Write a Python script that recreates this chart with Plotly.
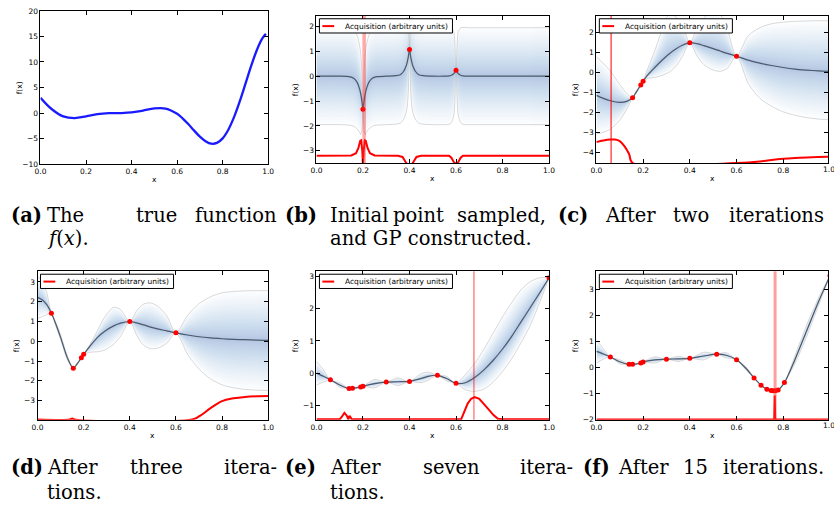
import plotly.graph_objects as go

W, H = 834, 518

# ---------------- data ----------------
# (a) true function
xa = [0.0, 0.05, 0.1, 0.15, 0.2, 0.25, 0.3, 0.35, 0.4, 0.45, 0.5, 0.55, 0.6, 0.625, 0.65, 0.675, 0.7,
      0.725, 0.75, 0.775, 0.8, 0.825, 0.85, 0.875, 0.9, 0.925, 0.95, 0.975, 0.99]
fa = [3.0, 0.75, -0.65, -0.97, -0.64, -0.21, -0.02, 0.0, 0.12, 0.48, 0.9, 0.87, -0.15, -1.07, -2.2, -3.44, -4.6,
      -5.5, -6.0, -5.84, -4.95, -3.26, -0.8, 2.27, 5.7, 9.18, 12.3, 14.65, 15.5]

# (b) initial GP
xb = [0, 0.1, 0.14, 0.16, 0.175, 0.185, 0.19, 0.195, 0.2, 0.205, 0.21, 0.215, 0.225, 0.24, 0.26, 0.3, 0.34,
      0.36, 0.375, 0.385, 0.39, 0.395, 0.4, 0.405, 0.41, 0.415, 0.425, 0.44, 0.46, 0.5, 0.55, 0.57, 0.58,
      0.59, 0.595, 0.6, 0.605, 0.61, 0.62, 0.63, 0.65, 0.7, 0.8, 0.9, 1.0]
mean_b = [0, 0, -0.02, -0.08, -0.25, -0.5, -0.7, -0.98, -1.33, -0.98, -0.7, -0.5, -0.25, -0.08, -0.02, 0, 0.02,
          0.06, 0.2, 0.4, 0.56, 0.79, 1.07, 0.79, 0.56, 0.4, 0.2, 0.06, 0.02, 0, 0, 0.01, 0.04,
          0.1, 0.16, 0.24, 0.16, 0.1, 0.04, 0.01, 0, 0, 0, 0, 0]
upper_b = [1.95, 1.95, 1.93, 1.85, 1.63, 1.25, 0.95, 0.22, -1.33, 0.22, 0.95, 1.25, 1.63, 1.85, 1.93, 1.95, 1.97,
           2.01, 2.13, 2.28, 2.36, 2.19, 1.07, 2.19, 2.36, 2.28, 2.13, 2.01, 1.97, 1.95, 1.95, 1.96, 1.94,
           1.8, 1.36, 0.24, 1.36, 1.8, 1.94, 1.96, 1.95, 1.95, 1.95, 1.95, 1.95]
lower_b = [-1.95, -1.95, -1.97, -2.01, -2.13, -2.25, -2.35, -2.18, -1.33, -2.18, -2.35, -2.25, -2.13, -2.01, -1.97, -1.95, -1.93,
           -1.89, -1.73, -1.48, -1.24, -0.61, 1.07, -0.61, -1.24, -1.48, -1.73, -1.89, -1.93, -1.95, -1.95, -1.94, -1.86,
           -1.6, -1.04, 0.24, -1.04, -1.6, -1.86, -1.94, -1.95, -1.95, -1.95, -1.95, -1.95]
acqx_b = [0, 0.15, 0.17, 0.18, 0.188, 0.192, 0.197, 0.2, 0.203, 0.208, 0.212, 0.22, 0.23, 0.25, 0.35, 0.37,
          0.38, 0.39, 0.41, 0.42, 0.43, 0.45, 0.57, 0.58, 0.59, 0.6, 0.61, 0.62, 0.63, 1.0]
acq_b = [-3.2, -3.19, -3.1, -2.9, -2.6, -2.58, -3.0, -3.6, -3.0, -2.58, -2.6, -2.9, -3.1, -3.19, -3.2, -3.25,
         -3.4, -3.55, -3.55, -3.4, -3.25, -3.2, -3.2, -3.28, -3.45, -3.52, -3.45, -3.28, -3.2, -3.2]
sx_b = [0.2, 0.4, 0.6]
sy_b = [-1.33, 1.07, 0.24]
next_b = 0.205

# (c) after two iterations
xc = [0, 0.03, 0.06, 0.1, 0.13, 0.155, 0.17, 0.19, 0.2, 0.22, 0.25, 0.28, 0.31, 0.34, 0.37, 0.4, 0.43,
      0.46, 0.5, 0.53, 0.56, 0.6, 0.65, 0.7, 0.75, 0.8, 0.85, 0.9, 0.95, 1.0]
mean_c = [-1.15, -1.3, -1.42, -1.5, -1.45, -1.27, -1.0, -0.63, -0.44, -0.12, 0.25, 0.6, 0.92, 1.18, 1.38, 1.5, 1.45,
          1.35, 1.2, 1.08, 0.96, 0.82, 0.62, 0.47, 0.35, 0.25, 0.17, 0.12, 0.08, 0.05]
upper_c = [0.8, 0.45, 0.07, -0.6, -1.05, -1.27, -0.95, -0.6, -0.4, 0.2, 1.1, 2.1, 2.9, 2.8, 2.3, 1.5, 2.2,
           2.75, 3.0, 2.9, 2.2, 0.82, 1.85, 2.25, 2.45, 2.53, 2.57, 2.59, 2.6, 2.6]
lower_c = [-3.1, -3.0, -2.85, -2.4, -1.85, -1.27, -1.05, -0.66, -0.47, -0.3, -0.25, -0.15, 0.0, 0.3, 0.85, 1.5, 0.85,
           0.4, 0.12, 0.06, 0.2, 0.82, -0.55, -1.3, -1.7, -1.98, -2.15, -2.27, -2.34, -2.38]
acqx_c = [0, 0.03, 0.06, 0.08, 0.1, 0.12, 0.14, 0.155, 0.6, 0.65, 0.7, 0.75, 0.8, 0.85, 0.9, 0.95, 1.0]
acq_c = [-3.5, -3.42, -3.37, -3.37, -3.45, -3.7, -4.1, -4.55, -4.55, -4.53, -4.48, -4.4, -4.34, -4.3, -4.27, -4.25, -4.23]
sx_c = [0.155, 0.19, 0.2, 0.4, 0.6]
sy_c = [-1.27, -0.63, -0.44, 1.5, 0.82]
next_c = 0.063

# (d) after three iterations
xd = [0, 0.02, 0.04, 0.06, 0.08, 0.1, 0.13, 0.155, 0.17, 0.19, 0.2, 0.23, 0.26, 0.29, 0.33, 0.36, 0.4,
      0.43, 0.46, 0.49, 0.52, 0.56, 0.6, 0.65, 0.7, 0.75, 0.8, 0.85, 0.9, 0.95, 1.0]
mean_d = [2.22, 2.1, 1.85, 1.42, 0.85, 0.2, -0.85, -1.36, -1.17, -0.83, -0.66, -0.2, 0.2, 0.5, 0.78, 0.92, 1.0,
          0.93, 0.83, 0.72, 0.63, 0.53, 0.43, 0.32, 0.23, 0.17, 0.13, 0.1, 0.08, 0.06, 0.05]
upper_d = [3.3, 3.0, 2.45, 1.42, 0.95, 0.32, -0.75, -1.36, -1.12, -0.83, -0.66, -0.1, 0.55, 1.2, 1.72, 1.6, 1.0,
           1.55, 1.88, 1.94, 1.78, 1.3, 0.43, 1.3, 1.9, 2.25, 2.45, 2.52, 2.55, 2.56, 2.56]
lower_d = [1.15, 1.25, 1.35, 1.42, 0.75, 0.08, -0.95, -1.36, -1.22, -0.85, -0.66, -0.55, -0.53, -0.45, -0.15, 0.25, 1.0,
           0.3, -0.2, -0.37, -0.35, -0.1, 0.43, -0.65, -1.4, -1.9, -2.2, -2.35, -2.43, -2.47, -2.48]
acqx_d = [0, 0.14, 0.15, 0.16, 0.67, 0.7, 0.75, 0.8, 0.85, 0.9, 0.95, 1.0]
acq_d = [-3.95, -3.95, -3.9, -3.95, -3.95, -3.8, -3.38, -3.02, -2.88, -2.81, -2.78, -2.77]
sx_d = [0.06, 0.155, 0.19, 0.2, 0.4, 0.6]
sy_d = [1.42, -1.36, -0.83, -0.66, 1.0, 0.43]
next_d = None

# (e) after seven iterations
xe = [0, 0.03, 0.06, 0.1, 0.14, 0.155, 0.17, 0.19, 0.2, 0.25, 0.3, 0.35, 0.4, 0.45, 0.48, 0.52, 0.56,
      0.6, 0.64, 0.68, 0.72, 0.76, 0.8, 0.84, 0.88, 0.92, 0.96, 1.0]
mean_e = [0.0, -0.1, -0.21, -0.37, -0.48, -0.47, -0.46, -0.43, -0.41, -0.33, -0.28, -0.27, -0.26, -0.17, -0.1, -0.07, -0.17,
          -0.32, -0.3, -0.14, 0.1, 0.4, 0.75, 1.15, 1.6, 2.05, 2.5, 2.97]
upper_e = [0.37, 0.1, -0.21, -0.3, -0.48, -0.47, -0.44, -0.43, -0.41, -0.2, -0.28, -0.15, -0.26, -0.02, 0.03, -0.07, -0.1,
           -0.32, -0.05, 0.3, 0.75, 1.25, 1.75, 2.2, 2.6, 2.85, 2.97, 2.97]
lower_e = [-0.37, -0.28, -0.21, -0.44, -0.48, -0.47, -0.48, -0.43, -0.41, -0.46, -0.28, -0.39, -0.26, -0.3, -0.22, -0.07, -0.25,
           -0.32, -0.52, -0.57, -0.5, -0.28, 0.05, 0.45, 0.95, 1.5, 2.2, 2.97]
acqx_e = [0, 0.1, 0.11, 0.12, 0.13, 0.137, 0.142, 0.147, 0.152, 0.622, 0.635, 0.65, 0.665, 0.68, 0.7, 0.72,
          0.74, 0.76, 0.78, 0.8, 1.0]
acq_e = [-1.44, -1.44, -1.35, -1.24, -1.32, -1.44, -1.33, -1.4, -1.44, -1.44, -1.2, -0.95, -0.8, -0.75, -0.8, -0.95,
         -1.13, -1.3, -1.42, -1.44, -1.44]
sx_e = [0.06, 0.14, 0.155, 0.19, 0.2, 0.3, 0.4, 0.52, 0.6, 1.0]
sy_e = [-0.21, -0.48, -0.47, -0.43, -0.41, -0.28, -0.26, -0.07, -0.32, 2.97]
next_e = 0.677

# (f) after 15 iterations
xf = [0, 0.03, 0.06, 0.1, 0.14, 0.155, 0.19, 0.2, 0.25, 0.3, 0.35, 0.4, 0.46, 0.515, 0.555, 0.6, 0.64,
      0.675, 0.705, 0.73, 0.748, 0.757, 0.766, 0.778, 0.805, 0.85, 0.9, 0.95, 1.0]
mean_f = [0.62, 0.52, 0.4, 0.22, 0.12, 0.12, 0.17, 0.21, 0.29, 0.32, 0.33, 0.35, 0.44, 0.51, 0.47, 0.3, -0.03,
          -0.4, -0.68, -0.83, -0.88, -0.89, -0.89, -0.86, -0.58, 0.3, 1.4, 2.5, 3.52]
upper_f = [1.07, 0.72, 0.4, 0.3, 0.12, 0.12, 0.17, 0.21, 0.41, 0.32, 0.43, 0.35, 0.59, 0.51, 0.57, 0.3, 0.03,
           -0.4, -0.68, -0.83, -0.88, -0.89, -0.89, -0.86, -0.58, 0.45, 1.62, 2.65, 3.52]
lower_f = [0.17, 0.32, 0.4, 0.14, 0.12, 0.12, 0.17, 0.21, 0.17, 0.32, 0.23, 0.35, 0.29, 0.51, 0.37, 0.3, -0.09,
           -0.4, -0.68, -0.83, -0.88, -0.89, -0.89, -0.86, -0.58, 0.15, 1.18, 2.35, 3.52]
acqx_f = [0, 0.7615, 0.7635, 0.7655, 1.0]
acq_f = [-1.99, -1.99, -1.07, -1.99, -1.99]
sx_f = [0.06, 0.14, 0.155, 0.19, 0.2, 0.3, 0.4, 0.515, 0.6, 0.675, 0.705, 0.73, 0.748, 0.757, 0.766, 0.778, 0.805, 1.0]
sy_f = [0.4, 0.12, 0.12, 0.17, 0.21, 0.32, 0.35, 0.51, 0.3, -0.4, -0.68, -0.83, -0.88, -0.89, -0.89, -0.86, -0.58, 3.52]
next_f = 0.765

legend_label = "Acquisition (arbitrary units)"

# ---------------- layout geometry ----------------
boxes = {'a': (35, 266, 7, 163), 'b': (315, 551, 12, 162), 'c': (599, 834, 12, 162),
         'd': (32, 266, 272, 423), 'e': (315, 551, 272, 423), 'f': (599, 834, 272, 423)}
xr = {'a': [0, 1], 'b': [0, 1], 'c': [0, 0.9916], 'd': [0, 1], 'e': [0, 1], 'f': [0, 0.9916]}
yr = {'a': [-10, 20], 'b': [-3.5, 2.43], 'c': [-4.56, 2.85], 'd': [-3.96, 3.54],
      'e': [-1.45, 3.17], 'f': [-2.0, 3.69]}
ydt = {'a': 5, 'b': 1, 'c': 1, 'd': 1, 'e': 1, 'f': 1}
ids = {'a': '', 'b': '2', 'c': '3', 'd': '4', 'e': '5', 'f': '6'}

def px(p):
    return p / W

def py(p):
    return 1 - p / H

SMALL = dict(family='DejaVu Sans', size=7.5, color='black')

fig = go.Figure()
layout = dict(width=W, height=H, margin=dict(l=0, r=0, t=0, b=0), paper_bgcolor='white',
              plot_bgcolor='white', showlegend=False)
axcommon = dict(showline=True, linecolor='black', linewidth=1, mirror='ticks', ticks='inside',
                ticklen=4, tickwidth=1, tickcolor='black', showgrid=False, zeroline=False,
                tickfont=SMALL, fixedrange=True)
for k in 'abcdef':
    i = ids[k]
    l, r, t, b = boxes[k]
    layout['xaxis' + i] = dict(axcommon, domain=[px(l), px(r)], range=xr[k], anchor='y' + i,
                               tick0=0, dtick=0.2, tickformat='.1f')
    layout['yaxis' + i] = dict(axcommon, domain=[py(b), py(t)], range=yr[k], anchor='x' + i,
                               tick0=0, dtick=ydt[k])
fig.update_layout(**layout)

# (a)
fig.add_trace(go.Scatter(x=xa, y=fa, mode='lines', line=dict(color='#1a1aff', width=2.3, shape='spline'),
                         xaxis='x', yaxis='y', hoverinfo='skip'))

panels = [
    ('b', xb, mean_b, upper_b, lower_b, acqx_b, acq_b, sx_b, sy_b, next_b),
    ('c', xc, mean_c, upper_c, lower_c, acqx_c, acq_c, sx_c, sy_c, next_c),
    ('d', xd, mean_d, upper_d, lower_d, acqx_d, acq_d, sx_d, sy_d, next_d),
    ('e', xe, mean_e, upper_e, lower_e, acqx_e, acq_e, sx_e, sy_e, next_e),
    ('f', xf, mean_f, upper_f, lower_f, acqx_f, acq_f, sx_f, sy_f, next_f),
]
vstyle = {'b': (3.5, 'rgba(255,40,40,0.4)'), 'c': (1.2, 'rgba(255,0,0,0.85)'),
          'e': (1.2, 'rgba(255,0,0,0.6)'), 'f': (3.0, 'rgba(255,40,40,0.45)')}
acq_shape = {'b': 'linear', 'c': 'spline', 'd': 'spline', 'e': 'linear', 'f': 'linear'}

NB = 30
shapes = []
for (k, x, mean, up, lo, ax, ay, sx, sy, nxt) in panels:
    i = ids[k]
    xa_, ya_ = 'x' + i, 'y' + i
    for n in range(NB, 0, -1):
        f = (n / NB) ** 1.5
        u = [m + f * (uu - m) for m, uu in zip(mean, up)]
        d = [m - f * (m - ll) for m, ll in zip(mean, lo)]
        fig.add_trace(go.Scatter(x=list(x) + list(x)[::-1], y=u + d[::-1], mode='lines', fill='toself',
                                 fillcolor='rgba(80,130,200,0.018)', line=dict(width=0, shape='spline', smoothing=0.8),
                                 xaxis=xa_, yaxis=ya_, hoverinfo='skip'))
    for yy in (up, lo):
        fig.add_trace(go.Scatter(x=x, y=yy, mode='lines',
                                 line=dict(color='rgba(0,0,0,0.15)', width=1, shape='spline', smoothing=0.8),
                                 xaxis=xa_, yaxis=ya_, hoverinfo='skip'))
    fig.add_trace(go.Scatter(x=x, y=mean, mode='lines',
                             line=dict(color='rgb(75,90,108)', width=1.2, shape='spline', smoothing=0.8),
                             xaxis=xa_, yaxis=ya_, hoverinfo='skip'))
    fig.add_trace(go.Scatter(x=ax, y=ay, mode='lines',
                             line=dict(color='red', width=2, shape=acq_shape[k]),
                             xaxis=xa_, yaxis=ya_, hoverinfo='skip'))
    fig.add_trace(go.Scatter(x=sx, y=sy, mode='markers', marker=dict(color='red', size=5),
                             xaxis=xa_, yaxis=ya_, hoverinfo='skip'))
    if nxt is not None:
        w, c = vstyle[k]
        shapes.append(dict(type='line', xref=xa_, yref=ya_ + ' domain', x0=nxt, x1=nxt, y0=0, y1=1,
                           line=dict(color=c, width=w), layer='above'))

annotations = []
for k in 'abcdef':
    l, r, t, b = boxes[k]
    if k != 'a':
        shapes.append(dict(type='rect', xref='paper', yref='paper', x0=px(l + 3), x1=px(l + 138),
                           y0=py(t + 17.5), y1=py(t + 3), fillcolor='white',
                           line=dict(color='black', width=1), layer='above'))
        shapes.append(dict(type='line', xref='paper', yref='paper', x0=px(l + 6), x1=px(l + 18),
                           y0=py(t + 10.5), y1=py(t + 10.5), line=dict(color='red', width=2), layer='above'))
        annotations.append(dict(text=legend_label, xref='paper', yref='paper', x=px(l + 27), y=py(t + 10.5),
                                xanchor='left', yanchor='middle', showarrow=False, font=SMALL))
    xc_lab = (l + r) / 2 if r < 834 else (l + 835) / 2
    annotations.append(dict(text='x', xref='paper', yref='paper', x=px(xc_lab),
                            y=py(b + 16), xanchor='center', yanchor='middle', showarrow=False, font=SMALL))
    annotations.append(dict(text='f(x)', xref='paper', yref='paper', x=px(l - 21), y=py((t + b) / 2),
                            xanchor='center', yanchor='middle', textangle=-90, showarrow=False, font=SMALL))
for k in 'cf':
    l, r, t, b = boxes[k]
    annotations.append(dict(text='1.0', xref='paper', yref='paper', x=835 / W, y=py(b + 6),
                            xanchor='center', yanchor='middle', showarrow=False, font=SMALL))

CAP = dict(family='DejaVu Serif', size=19.5, color='black')
caps = [
    (3, 215, '<b>(a)</b>', 'left'), (40, 215, 'The', 'left'), (153, 215, 'true', 'center'),
    (277, 215, 'function', 'right'), (40, 239, '<i>f</i>(<i>x</i>).', 'left'),
    (281, 215, '<b>(b)</b>', 'left'), (327, 215, 'Initial', 'left'), (419, 215, 'point', 'center'),
    (550, 215, 'sampled,', 'right'), (327, 239, 'and GP constructed.', 'left'),
    (558, 215, '<b>(c)</b>', 'left'), (606, 215, 'After', 'left'), (695, 215, 'two', 'center'),
    (832, 215, 'iterations', 'right'),
    (3, 472, '<b>(d)</b>', 'left'), (40, 472, 'After', 'left'), (153, 472, 'three', 'center'),
    (277, 472, 'itera-', 'right'), (40, 497, 'tions.', 'left'),
    (281, 472, '<b>(e)</b>', 'left'), (327, 472, 'After', 'left'), (452, 472, 'seven', 'center'),
    (577, 472, 'itera-', 'right'), (327, 497, 'tions.', 'left'),
    (583, 472, '<b>(f)</b>', 'left'), (619, 472, 'After', 'left'), (700, 472, '15', 'center'),
    (832, 472, 'iterations.', 'right'),
]
for (x0, y0, txt, anc) in caps:
    annotations.append(dict(text=txt, xref='paper', yref='paper', x=px(x0), y=py(y0), xanchor=anc,
                            yanchor='middle', showarrow=False, font=CAP))

fig.update_layout(shapes=shapes, annotations=annotations)
fig.write_html("out.html")
